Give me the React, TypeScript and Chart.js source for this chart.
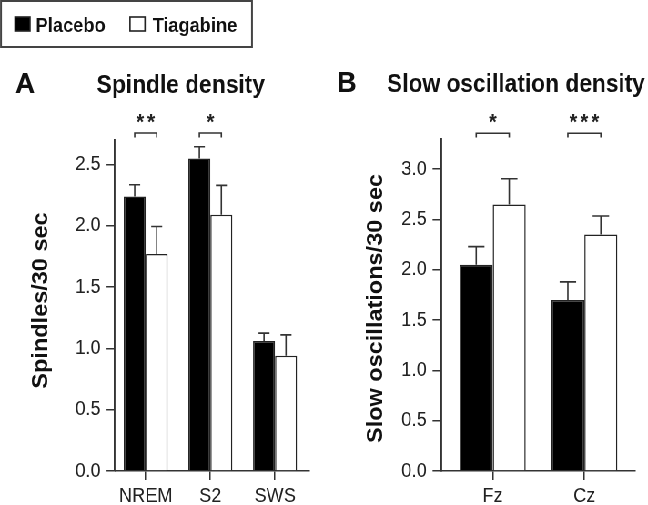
import React, { useEffect, useRef } from 'react';
import { Chart, registerables } from 'chart.js';

Chart.register(...registerables);

// ---- data ----
const categoriesA = ['NREM', 'S2', 'SWS'];
const placeboA = [2.24, 2.55, 1.06];
const placeboAErr = [0.095, 0.095, 0.065];
const tiagabineA = [1.77, 2.09, 0.94];
const tiagabineAErr = [0.225, 0.24, 0.17];
const signifA = ['**', '*', ''];
const yTicksA = [0, 0.5, 1, 1.5, 2, 2.5];

const categoriesB = ['Fz', 'Cz'];
const placeboB = [2.05, 1.7];
const placeboBErr = [0.18, 0.18];
const tiagabineB = [2.65, 2.35];
const tiagabineBErr = [0.255, 0.185];
const signifB = ['*', '***'];
const yTicksB = [0, 0.5, 1, 1.5, 2, 2.5, 3];

const seriesNames = ['Placebo', 'Tiagabine'];

// ---- layout (canvas is drawn wide, then squeezed horizontally like the original figure) ----
const SQUEEZE = 0.91;
const W = 712;
const H = 505;
const FONT = "'Liberation Sans', Arial, Helvetica, sans-serif";
const INK = '#111';
const LINE = '#333';

const annotPlugin = {
  id: 'annot',
  afterDatasetsDraw(chart: any, _args: any, opts: any) {
    const ctx = chart.ctx;
    const yScale = chart.scales.y;
    ctx.save();
    ctx.strokeStyle = LINE;
    ctx.lineWidth = 1.6;
    chart.data.datasets.forEach((ds: any, di: number) => {
      const meta = chart.getDatasetMeta(di);
      meta.data.forEach((bar: any, i: number) => {
        const v = ds.data[i].y;
        const e = ds.errors[i];
        const y0 = yScale.getPixelForValue(v);
        const y1 = yScale.getPixelForValue(v + e);
        const hw = bar.width / 4;
        ctx.beginPath();
        ctx.moveTo(bar.x, y0);
        ctx.lineTo(bar.x, y1);
        ctx.moveTo(bar.x - hw, y1);
        ctx.lineTo(bar.x + hw, y1);
        ctx.stroke();
      });
    });
    const m0 = chart.getDatasetMeta(0);
    const m1 = chart.getDatasetMeta(1);
    (opts.signif || []).forEach((s: string, i: number) => {
      if (!s) return;
      const x1 = m0.data[i].x;
      const x2 = m1.data[i].x;
      ctx.beginPath();
      ctx.moveTo(x1, opts.legY);
      ctx.lineTo(x1, opts.bracketY);
      ctx.lineTo(x2, opts.bracketY);
      ctx.lineTo(x2, opts.legY);
      ctx.stroke();
      ctx.font = `bold 22px ${FONT}`;
      ctx.fillStyle = '#222';
      ctx.textAlign = 'center';
      ctx.textBaseline = 'alphabetic';
      (ctx as any).letterSpacing = '3.4px';
      ctx.fillText(s, (x1 + x2) / 2 + 1.7, opts.starY);
      (ctx as any).letterSpacing = '0px';
    });
    ctx.restore();
  },
  afterDraw(chart: any, _args: any, opts: any) {
    const ctx = chart.ctx;
    ctx.save();
    ctx.fillStyle = INK;
    ctx.textBaseline = 'alphabetic';
    ctx.textAlign = 'center';
    ctx.font = `bold 30px ${FONT}`;
    ctx.fillText(opts.letter, opts.letterX, opts.letterY);
    ctx.font = `bold 25px ${FONT}`;
    ctx.fillText(opts.title, opts.titleX, opts.titleY);
    ctx.save();
    ctx.translate(opts.yTitleX, opts.yTitleY);
    ctx.rotate(-Math.PI / 2);
    ctx.font = `bold 23.5px ${FONT}`;
    ctx.fillText(opts.yTitle, 0, 0);
    ctx.restore();

    if (opts.legend) {
      const L = opts.legend;
      ctx.lineWidth = 2;
      ctx.strokeStyle = '#444';
      ctx.strokeRect(L.x, L.y, L.w, L.h);
      ctx.font = `bold 20px ${FONT}`;
      ctx.textAlign = 'left';
      chart.data.datasets.forEach((ds: any, di: number) => {
        const it = L.items[di];
        ctx.fillStyle = ds.backgroundColor;
        ctx.fillRect(it.boxX, L.boxY, L.boxW, L.boxH);
        ctx.lineWidth = 1.6;
        ctx.strokeStyle = '#222';
        ctx.strokeRect(it.boxX, L.boxY, L.boxW, L.boxH);
        ctx.fillStyle = INK;
        ctx.fillText(ds.label, it.textX, L.textY);
      });
    }
    ctx.restore();
  },
};

function makeConfig(p: any): any {
  const datasets = [
    {
      label: seriesNames[0],
      data: p.placebo.map((v: number, i: number) => ({ x: i, y: v })),
      errors: p.placeboErr,
      backgroundColor: '#000',
      borderColor: '#222',
      borderWidth: 1.5,
      barPercentage: 1,
      categoryPercentage: p.catPct,
    },
    {
      label: seriesNames[1],
      data: p.tiagabine.map((v: number, i: number) => ({ x: i, y: v })),
      errors: p.tiagabineErr,
      backgroundColor: '#fff',
      borderColor: '#222',
      borderWidth: 1.5,
      barPercentage: 1,
      categoryPercentage: p.catPct,
    },
  ];
  return {
    type: 'bar',
    data: { datasets },
    plugins: [annotPlugin],
    options: {
      responsive: false,
      animation: false,
      devicePixelRatio: 1,
      events: [],
      layout: { padding: { left: 0, top: p.top, right: W - p.right, bottom: 0 } },
      plugins: {
        legend: { display: false },
        tooltip: { enabled: false },
        annot: p.annot,
      },
      scales: {
        x: {
          type: 'linear',
          min: p.xMin,
          max: p.xMax,
          offset: false,
          afterBuildTicks: (s: any) => {
            s.ticks = p.categories.map((_: string, i: number) => ({ value: i }));
          },
          afterFit: (s: any) => {
            s.height = H - p.bottom;
          },
          ticks: {
            callback: (v: number) => p.categories[v],
            autoSkip: false,
            maxRotation: 0,
            padding: 4,
            color: '#222',
            font: { family: FONT, size: 20 },
          },
          grid: { drawOnChartArea: false, drawTicks: true, offset: false, tickLength: 9, color: LINE, lineWidth: 1.5 },
          border: { display: true, color: LINE, width: 1.6 },
        },
        y: {
          min: 0,
          max: p.yMax,
          afterBuildTicks: (s: any) => {
            s.ticks = p.yTicks.map((v: number) => ({ value: v }));
          },
          afterFit: (s: any) => {
            s.width = p.left;
          },
          ticks: {
            callback: (v: number) => Number(v).toFixed(1),
            padding: 6.5,
            color: '#222',
            font: { family: FONT, size: 20 },
          },
          grid: { drawOnChartArea: false, drawTicks: true, tickLength: 9.3, color: LINE, lineWidth: 1.5 },
          border: { display: true, color: LINE, width: 1.9 },
        },
      },
    },
  };
}

const configA = () =>
  makeConfig({
    categories: categoriesA,
    placebo: placeboA,
    placeboErr: placeboAErr,
    tiagabine: tiagabineA,
    tiagabineErr: tiagabineAErr,
    yTicks: yTicksA,
    yMax: 2.7,
    xMin: -0.475,
    xMax: 2.53,
    catPct: 0.68,
    left: 115 / SQUEEZE,
    right: 309.3 / SQUEEZE,
    top: 140,
    bottom: 471,
    annot: {
      signif: signifA,
      bracketY: 133,
      legY: 137.5,
      starY: 129,
      letter: 'A',
      letterX: 25 / SQUEEZE,
      letterY: 93,
      title: 'Spindle density',
      titleX: 180.8 / SQUEEZE,
      titleY: 92.5,
      yTitle: 'Spindles/30 sec',
      yTitleX: 51.9,
      yTitleY: 300.5,
      legend: {
        x: 1 / SQUEEZE,
        y: 1,
        w: 251 / SQUEEZE,
        h: 46,
        boxY: 17,
        boxW: 15 / SQUEEZE,
        boxH: 14,
        textY: 32,
        items: [
          { boxX: 15 / SQUEEZE, textX: 39.2 },
          { boxX: 130 / SQUEEZE, textX: 167.7 },
        ],
      },
    },
  });

const configB = () =>
  makeConfig({
    categories: categoriesB,
    placebo: placeboB,
    placeboErr: placeboBErr,
    tiagabine: tiagabineB,
    tiagabineErr: tiagabineBErr,
    yTicks: yTicksB,
    yMax: 3.3,
    xMin: -0.564,
    xMax: 1.553,
    catPct: 0.72,
    left: 441 / SQUEEZE,
    right: 635 / SQUEEZE,
    top: 139,
    bottom: 471,
    annot: {
      signif: signifB,
      bracketY: 133.3,
      legY: 137.5,
      starY: 129,
      letter: 'B',
      letterX: 346.7 / SQUEEZE,
      letterY: 92,
      title: 'Slow oscillation density',
      titleX: 516 / SQUEEZE,
      titleY: 92,
      yTitle: 'Slow oscillations/30 sec',
      yTitleX: 419.8,
      yTitleY: 308.5,
      legend: null,
    },
  });

function Panel({ make }: { make: () => any }) {
  const ref = useRef<HTMLCanvasElement | null>(null);
  useEffect(() => {
    if (!ref.current) return;
    const chart = new Chart(ref.current, make());
    return () => chart.destroy();
  }, [make]);
  return (
    <canvas
      ref={ref}
      width={W}
      height={H}
      style={{ position: 'absolute', left: 0, top: 0, width: W, height: H }}
    />
  );
}

export default function App() {
  return (
    <div
      style={{
        position: 'absolute',
        left: 0,
        top: 0,
        width: W,
        height: H,
        background: '#fff',
        transform: `scaleX(${SQUEEZE})`,
        transformOrigin: '0 0',
      }}
    >
      <Panel make={configA} />
      <Panel make={configB} />
    </div>
  );
}
